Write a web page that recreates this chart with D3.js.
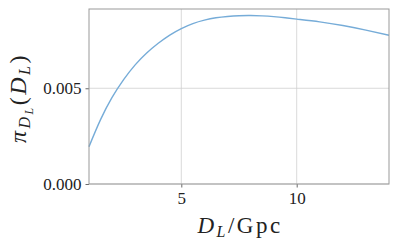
<!DOCTYPE html>
<html lang="en">
<head>
  <meta charset="UTF-8">
  <title>Prior</title>
  <style>
    body { margin: 0; background: #fff; }
    text { font-family: "Liberation Serif", "DejaVu Serif", serif; fill: #222; }
  </style>
</head>
<body>
  <script src="https://d3js.org/d3.v7.min.js"></script>
  <script>
    // distance (Gpc) and prior density
    const dist = [1, 1.5, 2, 2.5, 3, 3.5, 4, 4.5, 5, 5.5, 6, 6.5, 7, 7.5, 8, 8.5, 9, 9.5, 10, 11, 12, 13, 14];
    const prior = [0.00195, 0.00336, 0.00452, 0.00545, 0.00622, 0.00684, 0.00735, 0.00778, 0.00812, 0.00838, 0.00856,
      0.00868, 0.00875, 0.00879, 0.00880, 0.00878, 0.00874, 0.00868, 0.00861, 0.00847, 0.00828, 0.00804, 0.00777];
    const xTicks = [5, 10];
    const yTicks = [0, 0.005];

    const width = 398, height = 247;
    const margin = { top: 9, left: 89, bottom: 63, right: 9 };

    const svg = d3.select('body').append('svg').attr('width', width).attr('height', height);

    const x = d3.scaleLinear().domain([1, 14]).range([margin.left, width - margin.right]);
    const y = d3.scaleLinear().domain([0, 0.00914]).range([height - margin.bottom, margin.top]);

    // grid
    svg.append('g').selectAll('line').data(xTicks).enter().append('line')
      .attr('x1', d => x(d)).attr('x2', d => x(d))
      .attr('y1', y.range()[0]).attr('y2', y.range()[1])
      .attr('stroke', '#d0d0d0').attr('stroke-width', 0.8);
    svg.append('g').selectAll('line').data(yTicks).enter().append('line')
      .attr('x1', x.range()[0]).attr('x2', x.range()[1])
      .attr('y1', d => y(d)).attr('y2', d => y(d))
      .attr('stroke', '#d0d0d0').attr('stroke-width', 0.8);

    // curve
    const line = d3.line().x((d, i) => x(dist[i])).y(d => y(d)).curve(d3.curveNatural);
    svg.append('path').datum(prior).attr('d', line)
      .attr('fill', 'none').attr('stroke', '#76acd8').attr('stroke-width', 1.4);

    // axes
    const xAxis = d3.axisBottom(x).tickValues(xTicks).tickSize(3.5).tickPadding(4).tickFormat(d3.format('d'));
    const yAxis = d3.axisLeft(y).tickValues(yTicks).tickSize(3.5).tickPadding(4).tickFormat(d3.format('.3f'));
    const gx = svg.append('g').attr('transform', `translate(0,${height - margin.bottom})`).call(xAxis);
    const gy = svg.append('g').attr('transform', `translate(${margin.left},0)`).call(yAxis);
    [gx, gy].forEach(g => {
      g.select('.domain').remove();
      g.selectAll('.tick line').attr('stroke', '#444').attr('stroke-width', 0.8);
      g.selectAll('.tick text').style('font-size', '17px').attr('fill', '#222');
    });

    // frame
    svg.append('rect')
      .attr('x', margin.left).attr('y', margin.top)
      .attr('width', width - margin.left - margin.right)
      .attr('height', height - margin.top - margin.bottom)
      .attr('fill', 'none').attr('stroke', '#999').attr('stroke-width', 1);

    // x label
    const xl = svg.append('text').attr('x', 240).attr('y', 233).attr('text-anchor', 'middle')
      .style('font-size', '23px').style('letter-spacing', '2.5px');
    xl.append('tspan').style('font-style', 'italic').text('D');
    xl.append('tspan').style('font-style', 'italic').style('font-size', '16px').attr('dy', 4).text('L');
    xl.append('tspan').attr('dy', -4).text('/Gpc');

    // y label
    const yl = svg.append('text').attr('transform', 'translate(26,98) rotate(-90)')
      .attr('text-anchor', 'middle').style('font-size', '24px').style('letter-spacing', '2.5px');
    yl.append('tspan').style('font-style', 'italic').text('π');
    yl.append('tspan').style('font-style', 'italic').style('font-size', '16px').attr('dy', 4).text('D');
    yl.append('tspan').style('font-style', 'italic').style('font-size', '12px').attr('dy', 3).text('L');
    yl.append('tspan').attr('dy', -7).text('(');
    yl.append('tspan').style('font-style', 'italic').text('D');
    yl.append('tspan').style('font-style', 'italic').style('font-size', '16px').attr('dy', 4).text('L');
    yl.append('tspan').attr('dy', -4).text(')');
  </script>
</body>
</html>
